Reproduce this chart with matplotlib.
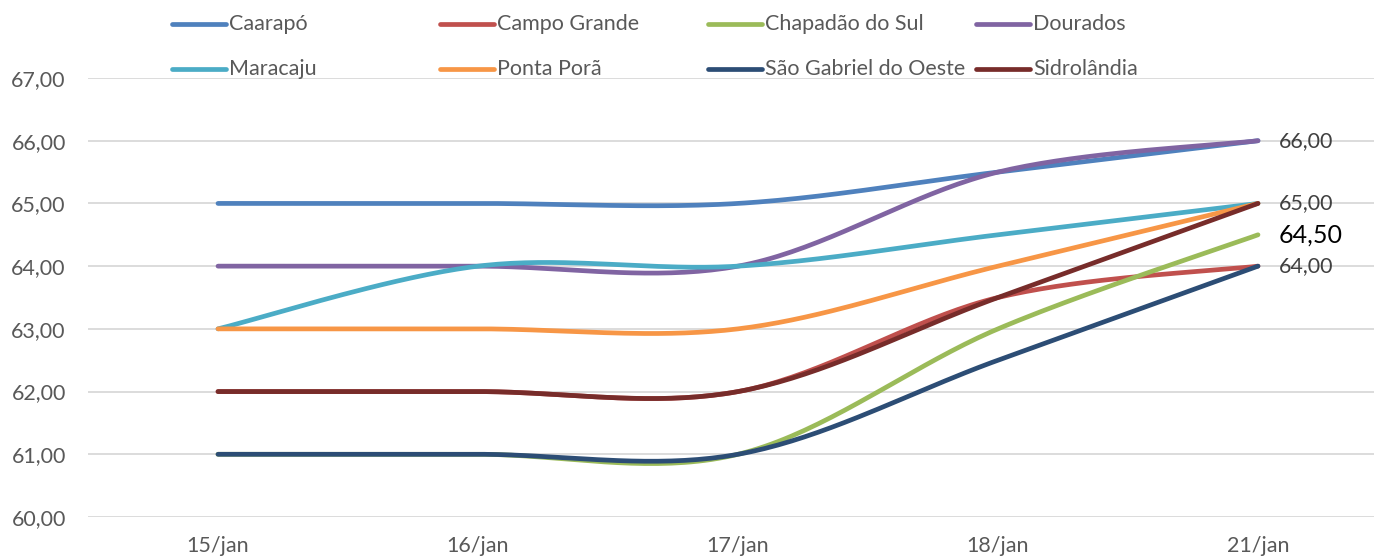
import matplotlib.pyplot as plt
from matplotlib.lines import Line2D
import numpy as np

plt.rcParams['font.family'] = ['Lato', 'DejaVu Sans']

dates = ["15/jan", "16/jan", "17/jan", "18/jan", "21/jan"]

caarapo = [65, 65, 65, 65.5, 66]
campo_grande = [62, 62, 62, 63.5, 64]
chapadao = [61, 61, 61, 63, 64.5]
dourados = [64, 64, 64, 65.5, 66]
maracaju = [63, 64, 64, 64.5, 65]
ponta_pora = [63, 63, 63, 64, 65]
sao_gabriel = [61, 61, 61, 62.5, 64]
sidrolandia = [62, 62, 62, 63.5, 65]

names = ["Caarapó", "Campo Grande", "Chapadão do Sul", "Dourados",
         "Maracaju", "Ponta Porã", "São Gabriel do Oeste", "Sidrolândia"]
series = [caarapo, campo_grande, chapadao, dourados,
          maracaju, ponta_pora, sao_gabriel, sidrolandia]
colors = ["#4F81BD", "#C0504D", "#9BBB59", "#8064A2",
          "#4BACC6", "#F79646", "#2C4D75", "#772C2A"]

# last-point labels: (series index, text colour, size)
end_labels = {3: ("#404040", 15.5), 7: ("#404040", 15.5),
              2: ("#000000", 18), 6: ("#404040", 15.5)}


def smooth(xs, ys, n=40):
    # cubic bezier smoothing, control points at 1/6 of neighbour slope
    xs = np.asarray(xs, float)
    ys = np.asarray(ys, float)
    px = np.concatenate([[xs[0]], xs, [xs[-1]]])
    py = np.concatenate([[ys[0]], ys, [ys[-1]]])
    outx, outy = [], []
    t = np.linspace(0, 1, n)
    for i in range(1, len(px) - 2):
        p0 = np.array([px[i], py[i]])
        p3 = np.array([px[i + 1], py[i + 1]])
        c1 = p0 + (np.array([px[i + 1], py[i + 1]]) - np.array([px[i - 1], py[i - 1]])) / 6
        c2 = p3 - (np.array([px[i + 2], py[i + 2]]) - np.array([px[i], py[i]])) / 6
        b = (np.outer((1 - t) ** 3, p0) + np.outer(3 * (1 - t) ** 2 * t, c1)
             + np.outer(3 * (1 - t) * t ** 2, c2) + np.outer(t ** 3, p3))
        outx.extend(b[:, 0])
        outy.extend(b[:, 1])
    return outx, outy


fig = plt.figure(figsize=(13.74, 5.59), dpi=100)
W, H = 1374, 559
left = 88
ax = fig.add_axes([left / W, 1 - 517 / H, (W - left) / W, (517 - 78) / H])

xs = np.arange(len(dates))
for ys, c in zip(series, colors):
    sx, sy = smooth(xs, ys)
    ax.plot(sx, sy, color=c, lw=3.4, solid_capstyle="round", zorder=3)

for i, (c, fs) in end_labels.items():
    ax.annotate(f"{series[i][-1]:.2f}".replace(".", ","), (xs[-1], series[i][-1]),
                xytext=(15, 0), textcoords="offset points", va="center",
                ha="left", fontsize=fs, color=c, zorder=4)

ax.set_xlim(-(218 - left) / 260, (W - 218) / 260)
ax.set_ylim(60, 67)
ax.set_yticks(np.arange(60, 68))
ax.set_yticklabels([f"{v},00" for v in range(60, 68)])
ax.set_xticks(xs)
ax.set_xticklabels(dates)
ax.grid(axis="y", color="#D9D9D9", lw=1.3)
ax.set_axisbelow(True)
for s in ax.spines.values():
    s.set_visible(False)
ax.tick_params(length=0, labelsize=15.5, colors="#595959")
ax.tick_params(axis="y", pad=16)
ax.tick_params(axis="x", pad=14)

# legend: two rows of four, equal column width
for i, (name, c) in enumerate(zip(names, colors)):
    col, row = i % 4, i // 4
    x0 = 172 + col * 268
    y0 = 24 + row * 45
    fig.add_artist(Line2D([x0 / W, (x0 + 54) / W], [1 - y0 / H, 1 - y0 / H],
                          color=c, lw=3.4, solid_capstyle="round"))
    fig.text((x0 + 57) / W, 1 - y0 / H, name, fontsize=15.5, color="#595959",
             va="center", ha="left")

fig.savefig("out.png", dpi=100)
